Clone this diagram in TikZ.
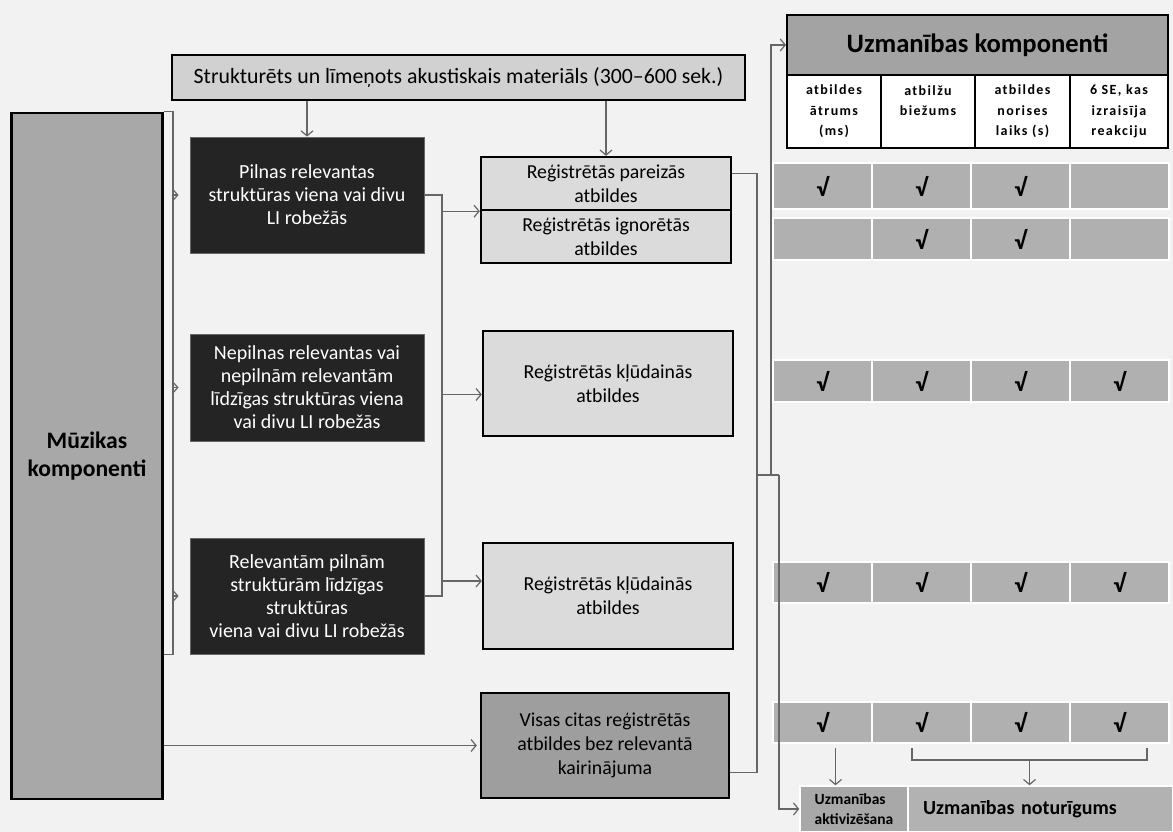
\documentclass[tikz,border=0pt]{standalone}
\usepackage{fontspec}
\setmainfont{Carlito}
\newfontfamily\spacedfont{Carlito}[LetterSpace=10]
\usetikzlibrary{arrows.meta, positioning}
\colorlet{drawColor}{black!60}
\colorlet{paperColor}{black!5}
\tikzstyle{line}=[draw=drawColor, line width=1.2pt]
\tikzstyle{arrow}=[line, -{Straight Barb[length=5pt, width=12pt]}]
\tikzstyle{small arrow}=[line, -{Straight Barb[length=4pt, width=9pt]}]
\tikzstyle{plain}=[rectangle, inner sep=0pt, align=center]
\tikzstyle{boxed}=[plain, draw=black, line width=2.4pt]
\tikzstyle{source}=[boxed, fill=black!18, minimum width=573pt, minimum height=45pt,
  font=\fontsize{21.8}{26}\selectfont]
\tikzstyle{music}=[boxed, fill=black!34, minimum width=151pt, minimum height=686pt,
  font=\bfseries\fontsize{23.6}{28}\selectfont]
\tikzstyle{dark}=[plain, fill=black!86, draw=black!60, line width=0.8pt, text=white,
  minimum width=234pt, font=\fontsize{20}{23}\selectfont]
\tikzstyle{resp}=[boxed, fill=black!14, minimum width=250pt, font=\fontsize{19.8}{24}\selectfont]
\tikzstyle{head}=[boxed, line width=2pt, fill=black!36, minimum width=381pt, minimum height=60pt,
  font=\bfseries\fontsize{26.6}{30}\selectfont]
\tikzstyle{sub}=[boxed, line width=2pt, fill=white, minimum height=73pt,
  font=\spacedfont\bfseries\fontsize{14}{20.5}\selectfont]
\tikzstyle{tick}=[plain, fill=black!31, draw=white, line width=1.5pt, minimum width=99pt,
  font=\bfseries\fontsize{25}{28}\selectfont]
\tikzstyle{foot}=[plain, draw=white, line width=1.5pt, minimum height=46pt]

\begin{document}
\begin{tikzpicture}[x=1pt, y=-1pt]
  \useasboundingbox (0,0) rectangle (1173,832);
  \fill[paperColor] (0,0) rectangle (1173,832);
  % sources and stimuli
  \node(src) at (458.5,77.5) [source] {Strukturēts un līmeņots akustiskais materiāls (300–600 sek.)};
  \node(mus) at (87,456) [music] {Mūzikas\\komponenti};
  \node(p1) at (307,195) [dark, minimum height=116pt] {Pilnas relevantas\\struktūras viena vai divu\\LI robežās};
  \node(p2) at (307,387.5) [dark, minimum height=107pt] {Nepilnas relevantas vai\\nepilnām relevantām\\līdzīgas struktūras viena\\vai divu LI robežās};
  \node(p3) at (307,596) [dark, minimum height=116pt] {Relevantām pilnām\\struktūrām līdzīgas\\struktūras\\viena vai divu LI robežās};
  % registered responses
  \node(r1) at (606,183.5) [resp, minimum height=53pt] {Reģistrētās pareizās\\atbildes};
  \node(r2) at (606,236.5) [resp, minimum height=53pt] {Reģistrētās ignorētās\\atbildes};
  \node(r3) at (608,383.5) [resp, minimum height=105pt] {Reģistrētās kļūdainās\\atbildes};
  \node(r4) at (608,596) [resp, minimum height=106pt] {Reģistrētās kļūdainās\\atbildes};
  \node(r5) at (605,745.5) [resp, fill=black!38, minimum width=248pt, minimum height=105pt] {Visas citas reģistrētās\\atbildes bez relevantā\\kairinājuma};
  % attention table
  \node(head) at (977.5,45) [head] {Uzmanības komponenti};
  \node(s1) at (834,111.5) [sub, minimum width=94pt] {atbildes\\ātrums\\(ms)};
  \node(s2) at (928,111.5) [sub, minimum width=94pt]
    {\begin{tabular}{@{}c@{}}atbilžu\\biežums\\~\end{tabular}};
  \node(s3) at (1022.5,111.5) [sub, minimum width=95pt] {atbildes\\norises\\laiks (s)};
  \node(s4) at (1119,111.5) [sub, minimum width=98pt] {6 SE, kas\\izraisīja\\reakciju};
  \foreach \row/\yy/\hh/\ta/\tb/\tc/\td in
    {1/186/46/√/√/√/{}, 2/239/42/{}/√/√/{}, 3/381/42/√/√/√/√,
     4/582.5/41/√/√/√/√, 5/722.5/41/√/√/√/√}
  {
    \node(k\row1) at (822.5,\yy) [tick, minimum height=\hh pt] {\ta};
    \node(k\row2) at (921.5,\yy) [tick, minimum height=\hh pt] {\tb};
    \node(k\row3) at (1020.5,\yy) [tick, minimum height=\hh pt] {\tc};
    \node(k\row4) at (1119.5,\yy) [tick, minimum height=\hh pt] {\td};
  }
  \node(act) at (854,809) [foot, fill=black!34, minimum width=108pt, align=left,
    font=\bfseries\fontsize{15.5}{20}\selectfont] {Uzmanības\\aktivizēšana};
  \node(hold) at (1040.5,809) [foot, fill=black!30, minimum width=265pt, text width=235pt, align=left,
    font=\bfseries\fontsize{20}{22}\selectfont] {Uzmanības noturīgums\\[6pt]};
  % connectors
  \draw[arrow] (p1.north |- src.south) to (p1.north);
  \draw[arrow] (r1.north |- src.south) to (r1.north);
  \coordinate(lb) at (173,0);
  \draw[line] (mus.north east) -| (lb |- p3.south) -- (mus.east |- p3.south);
  \draw[small arrow, shorten >=11pt] (lb |- p1.west) to (p1.west);
  \draw[small arrow, shorten >=11pt] (lb |- p2.west) to (p2.west);
  \draw[small arrow, shorten >=11pt] (lb |- p3.west) to (p3.west);
  \draw[arrow, shorten >=3pt] (mus.east |- r5.west) to (r5.west);
  \coordinate(mb) at (442,0);
  \coordinate(a3) at ([yshift=-11pt]r3.west);
  \coordinate(a4) at ([yshift=15pt]r4.west);
  \draw[line] (p1.east) -| (mb |- p3.east) -- (p3.east);
  \draw[arrow] (mb |- r1.south west) to (r1.south west);
  \draw[arrow] (mb |- a3) to (a3);
  \draw[arrow] (mb |- a4) to (a4);
  \coordinate(rb) at (757,475);
  \coordinate(up) at (771,475);
  \coordinate(dn) at (779,475);
  \draw[line] ([yshift=10pt]r1.east) -| (rb) |- ([yshift=-27pt]r5.east);
  \draw[line] (rb) -- (dn);
  \draw[arrow] (up) |- (head.west);
  \draw[arrow] (dn) |- (act.west);
  \coordinate(t1) at ([xshift=13pt, yshift=-4pt]k51.south);
  \draw[arrow] (t1) to (t1 |- act.north);
  \coordinate(bl) at (912,748);
  \coordinate(br) at (1147,748);
  \coordinate(bm) at (1029.5,760);
  \draw[line] (bl) |- (bm) -| (br);
  \draw[arrow] (bm) to (bm |- hold.north);
\end{tikzpicture}
\end{document}
